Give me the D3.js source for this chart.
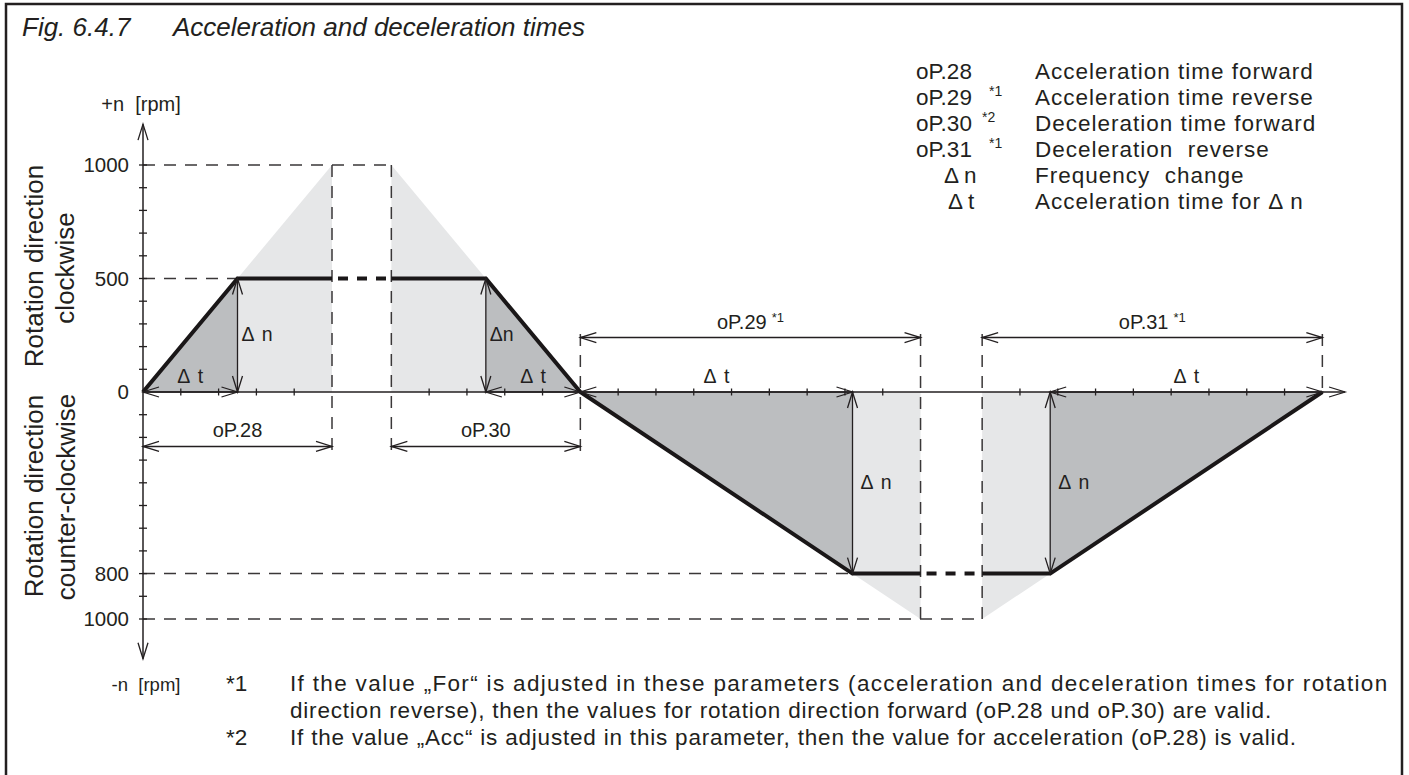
<!DOCTYPE html>
<html><head><meta charset="utf-8">
<script src="https://cdn.jsdelivr.net/npm/d3@7"></script>
<style>
html,body{margin:0;padding:0;background:#fff;}
svg{display:block;}
text{font-family:"Liberation Sans",Arial,Helvetica,sans-serif;fill:#231f20;}
</style></head><body>
<svg id="c" width="1409" height="775"></svg>
<script>
// ---------- data ----------
const yTickValues = d3.range(-1000, 1001, 100);
const yLabelValues = [1000, 500, 0, -800, -1000];
// time axis (schematic units, one unit = one x tick), broken into 4 segments
const segStart = [0, 6.57, 11.57, 22.2];
const segLength = [5, 5, 9, 9];
// speed profile (time, rpm)
const profileT = [0, 2.5, 5, 6.57, 9.07, 11.57, 18.77, 20.57, 22.2, 24.0, 31.2];
const profileN = [0, 500, 500, 500, 500, 0, -800, -800, -800, -800, 0];
const breakIdx = [2, 7]; // segment i -> i+1 drawn dashed (axis break)
// actual ramps (Δn over Δt)
const rampT0 = [0, 9.07, 11.57, 24.0];
const rampT1 = [2.5, 11.57, 18.77, 31.2];
const rampN0 = [0, 500, 0, -800];
const rampN1 = [500, 0, -800, 0];
const dnLabels = ["Δ n", "Δn", "Δ n", "Δ n"];
// full ramps 0 <-> 1000 rpm (parameter times)
const fullT0 = [0, 6.57, 11.57, 22.2];
const fullT1 = [5, 11.57, 20.57, 31.2];
const fullN0 = [0, 1000, 0, -1000];
const fullN1 = [1000, 0, -1000, 0];
// dimension arrows
const dimLabels = ["oP.28", "oP.30", "oP.29", "oP.31"];
const dimNotes = ["", "", "*1", "*1"];
const dimT0 = [0, 6.57, 11.57, 22.2];
const dimT1 = [5, 11.57, 20.57, 31.2];
const dimN = [-240, -240, 240, 240];
// vertical guides
const vGuideT = [5, 6.57, 11.57, 20.57, 22.2, 31.2];
const vGuideTop = [1000, 1000, 255, 255, 255, 255];
const vGuideBottom = [-265, -265, -265, -1000, -1000, 0];
// horizontal guides
const hGuideN = [1000, 500, -800, -1000];
const hGuideT1 = [6.57, 2.5, 18.77, 22.2];
// legend
const legendCodes = ["oP.28", "oP.29", "oP.30", "oP.31", "Δ n", "Δ t"];
const legendNotes = ["", "*1", "*2", "*1", "", ""];
const legendTexts = ["Acceleration time forward", "Acceleration time reverse", "Deceleration time forward", "Deceleration  reverse", "Frequency  change", "Acceleration time for Δ n"];
// footnotes
const footMarks = ["*1", "", "*2"];
const footLines = [
  "If the value „For“ is adjusted in these parameters (acceleration and deceleration times for rotation",
  "direction reverse), then the values for rotation direction forward (oP.28 und oP.30) are valid.",
  "If the value „Acc“ is adjusted in this parameter, then the value for acceleration (oP.28) is valid."
];

// ---------- drawing ----------
const ink = "#231f20";
const svg = d3.select("#c");
const x = d3.scaleLinear().domain([0, 31.2]).range([143, 143 + 31.2 * 37.8]);
const y = d3.scaleLinear().domain([-1000, 1000]).range([619, 165]);

// frame
svg.append("path").attr("d", "M6,775V4H1402V775").attr("fill", "none").attr("stroke", ink).attr("stroke-width", 2.5);

// title
svg.append("text").attr("x", 22).attr("y", 36).attr("font-size", 26).attr("font-style", "italic").text("Fig. 6.4.7");
svg.append("text").attr("x", 173).attr("y", 36).attr("font-size", 26).attr("font-style", "italic").text("Acceleration and deceleration times");

const tri = (t0, n0, t1, n1) => {
  const tc = n0 === 0 ? t1 : t0;
  return [[x(t0), y(n0)], [x(t1), y(n1)], [x(tc), y(0)]];
};
const line = d3.line();

// light (full ramp) triangles
svg.append("g").selectAll("path").data(d3.range(fullT0.length)).join("path")
  .attr("d", i => line(tri(fullT0[i], fullN0[i], fullT1[i], fullN1[i])) + "Z")
  .attr("fill", "#e6e7e8");
// dark (actual ramp) triangles
svg.append("g").selectAll("path").data(d3.range(rampT0.length)).join("path")
  .attr("d", i => line(tri(rampT0[i], rampN0[i], rampT1[i], rampN1[i])) + "Z")
  .attr("fill", "#bcbec0");

// guides
const guides = svg.append("g").attr("stroke", "#3a3738").attr("stroke-width", 1.5).attr("stroke-dasharray", "12,9").attr("fill", "none");
guides.selectAll("line.h").data(d3.range(hGuideN.length)).join("line").attr("class", "h")
  .attr("x1", x(0)).attr("x2", i => x(hGuideT1[i])).attr("y1", i => y(hGuideN[i])).attr("y2", i => y(hGuideN[i]));
guides.selectAll("line.v").data(d3.range(vGuideT.length)).join("line").attr("class", "v")
  .attr("x1", i => x(vGuideT[i])).attr("x2", i => x(vGuideT[i])).attr("y1", i => y(vGuideTop[i])).attr("y2", i => y(vGuideBottom[i]));

// arrow helpers
function head(g, tx, ty, dx, dy, len = 16, hw = 5) {
  const L = Math.hypot(dx, dy), ux = dx / L, uy = dy / L;
  const bx = tx - ux * len, by = ty - uy * len, px = -uy, py = ux;
  g.append("path").attr("d", `M${bx + px * hw},${by + py * hw}L${tx},${ty}L${bx - px * hw},${by - py * hw}`)
    .attr("fill", "none").attr("stroke", ink).attr("stroke-width", 1.3);
}
function dbl(g, x0, y0, x1, y1) {
  g.append("line").attr("x1", x0).attr("y1", y0).attr("x2", x1).attr("y2", y1).attr("stroke", ink).attr("stroke-width", 1.3);
  head(g, x0, y0, x0 - x1, y0 - y1);
  head(g, x1, y1, x1 - x0, y1 - y0);
}

// axes
const ax = svg.append("g");
const yTop = 1180, yBot = -1175, xEnd = 31.8;
ax.append("line").attr("x1", x(0)).attr("x2", x(0)).attr("y1", y(yTop)).attr("y2", y(yBot)).attr("stroke", ink).attr("stroke-width", 1.5);
ax.append("line").attr("x1", x(0)).attr("x2", x(xEnd)).attr("y1", y(0)).attr("y2", y(0)).attr("stroke", ink).attr("stroke-width", 1.5);
head(ax, x(0), y(yTop), 0, -1);
head(ax, x(0), y(yBot), 0, 1);
head(ax, x(xEnd), y(0), 1, 0);
// y ticks
ax.selectAll("line.yt").data(yTickValues.filter(v => v !== 0)).join("line").attr("class", "yt")
  .attr("x1", x(0) - 4).attr("x2", x(0) + 4).attr("y1", d => y(d)).attr("y2", d => y(d)).attr("stroke", ink).attr("stroke-width", 1.3);
// x ticks (per segment)
const xTicks = [];
segStart.forEach((s, i) => { for (let k = 1; k < segLength[i]; k++) xTicks.push(s + k); });
ax.selectAll("line.xt").data(xTicks).join("line").attr("class", "xt")
  .attr("x1", d => x(d)).attr("x2", d => x(d)).attr("y1", y(0) - 3.5).attr("y2", y(0) + 3.5).attr("stroke", ink).attr("stroke-width", 1.3);
// y labels
ax.selectAll("text.yl").data(yLabelValues).join("text").attr("class", "yl")
  .attr("x", 129).attr("y", d => y(d) + 7).attr("text-anchor", "end").attr("font-size", 20.5).text(d => Math.abs(d));
svg.append("text").attr("x", 141).attr("y", 111).attr("text-anchor", "middle").attr("font-size", 20).attr("xml:space", "preserve").text("+n  [rpm]");
svg.append("text").attr("x", 146).attr("y", 691).attr("text-anchor", "middle").attr("font-size", 18.5).attr("xml:space", "preserve").text("-n  [rpm]");

// rotated labels
const rot = [["Rotation direction", 43, 266], ["clockwise", 74, 268], ["Rotation direction", 43, 496], ["counter-clockwise", 75, 497]];
svg.selectAll("text.rot").data(rot).join("text").attr("class", "rot")
  .attr("transform", d => `translate(${d[1]},${d[2]}) rotate(-90)`).attr("text-anchor", "middle").attr("font-size", 26).text(d => d[0]);

// speed profile
const pts = profileT.map((t, i) => [x(t), y(profileN[i])]);
const prof = svg.append("g").attr("fill", "none").attr("stroke", "#1a1718").attr("stroke-width", 4).attr("stroke-linejoin", "miter");
let runs = [], cur = [pts[0]];
for (let i = 0; i < pts.length - 1; i++) {
  if (breakIdx.includes(i)) { runs.push(cur); cur = [pts[i + 1]];
    prof.append("line").attr("x1", pts[i][0]).attr("y1", pts[i][1]).attr("x2", pts[i + 1][0]).attr("y2", pts[i + 1][1])
      .attr("stroke-dasharray", "10,9").attr("stroke-dashoffset", 13);
  } else cur.push(pts[i + 1]);
}
runs.push(cur);
runs.forEach(r => prof.append("path").attr("d", line(r)));

// Δt / Δn arrows
const ar = svg.append("g");
rampT0.forEach((t0, i) => {
  const t1 = rampT1[i];
  dbl(ar, x(t0), y(0), x(t1), y(0));
  ar.append("text").attr("x", (x(t0) + x(t1)) / 2).attr("y", y(0) - 9).attr("text-anchor", "middle").attr("font-size", 19.5).attr("word-spacing", 3).text("Δ t");
  const tc = rampN0[i] === 0 ? t1 : t0;
  const nn = rampN0[i] === 0 ? rampN1[i] : rampN0[i];
  dbl(ar, x(tc), y(0), x(tc), y(nn));
  ar.append("text").attr("x", x(tc) + (nn > 0 ? 4 : 8)).attr("y", (y(0) + y(nn)) / 2 + 6).attr("font-size", 19.5).attr("word-spacing", 3).text(dnLabels[i]);
});
// dimension arrows
dimT0.forEach((t0, i) => {
  dbl(ar, x(t0), y(dimN[i]), x(dimT1[i]), y(dimN[i]));
  const tx = ar.append("text").attr("x", (x(t0) + x(dimT1[i])) / 2).attr("y", y(dimN[i]) - 9).attr("text-anchor", "middle").attr("font-size", 20).text(dimLabels[i]);
  if (dimNotes[i]) tx.append("tspan").attr("dx", 5).attr("dy", -7).attr("font-size", 13).text(dimNotes[i]);
});

// legend
const lg = svg.append("g");
legendCodes.forEach((c, i) => {
  const by = 79 + 26 * i;
  lg.append("text").attr("x", c.startsWith("Δ") ? (c === "Δ n" ? 944 : 948) : 916).attr("y", by).attr("font-size", 22.5).attr("xml:space", "preserve").text(c);
  if (legendNotes[i]) lg.append("text").attr("x", legendNotes[i] === "*2" ? 982 : 989).attr("y", by - 9).attr("font-size", 14).text(legendNotes[i]);
  lg.append("text").attr("x", 1035).attr("y", by).attr("font-size", 22.5).attr("letter-spacing", 1).attr("xml:space", "preserve").text(legendTexts[i]);
});

// footnotes
const fn = svg.append("g");
footLines.forEach((l, i) => {
  const by = 691 + 27 * i;
  if (footMarks[i]) fn.append("text").attr("x", 226).attr("y", by).attr("font-size", 22.5).text(footMarks[i]);
  const t = fn.append("text").attr("x", 290).attr("y", by).attr("font-size", 22.5).attr("letter-spacing", 0.8).text(l);
  if (i === 0) t.attr("textLength", 1388 - 290).attr("lengthAdjust", "spacing");
});
</script>
</body></html>
